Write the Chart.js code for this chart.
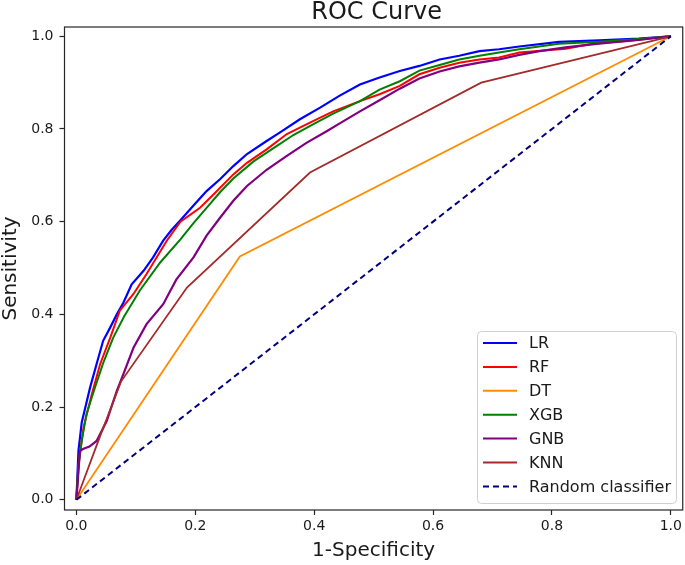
<!DOCTYPE html>
<html>
<head>
<meta charset="utf-8">
<script src="https://cdn.jsdelivr.net/npm/chart.js@4.4.1/dist/chart.umd.min.js"></script>
<style>
  html, body { margin: 0; padding: 0; background: #ffffff; }
  #c { display: block; }
</style>
</head>
<body>
<canvas id="c" width="685" height="565"></canvas>
<script>
// ---- data ----
const seriesLabels = ['LR', 'RF', 'DT', 'XGB', 'GNB', 'KNN', 'Random classifier'];
const seriesColors = ['#0000ff', '#ff0000', '#ff8c00', '#008000', '#800080', '#a52a2a', '#000080'];

const lrFpr = [0, 0.002, 0.0035, 0.009, 0.015, 0.023, 0.034, 0.045, 0.057, 0.068, 0.079, 0.093, 0.113, 0.129, 0.146, 0.160, 0.175, 0.197, 0.219, 0.242, 0.264, 0.287, 0.320, 0.342, 0.376, 0.410, 0.443, 0.477, 0.510, 0.544, 0.577, 0.611, 0.644, 0.678, 0.711, 0.745, 0.812, 0.879, 0.946, 1];
const lrTpr = [0, 0.060, 0.106, 0.167, 0.199, 0.242, 0.293, 0.343, 0.372, 0.400, 0.425, 0.465, 0.494, 0.523, 0.559, 0.582, 0.603, 0.635, 0.666, 0.692, 0.720, 0.746, 0.774, 0.792, 0.821, 0.846, 0.872, 0.896, 0.911, 0.925, 0.936, 0.950, 0.958, 0.968, 0.972, 0.978, 0.988, 0.991, 0.995, 1];

const rfFpr = [0, 0.004, 0.012, 0.026, 0.040, 0.057, 0.073, 0.096, 0.118, 0.152, 0.175, 0.208, 0.231, 0.264, 0.287, 0.320, 0.354, 0.398, 0.432, 0.477, 0.510, 0.544, 0.577, 0.611, 0.644, 0.678, 0.711, 0.745, 0.823, 0.868, 0.924, 1];
const rfTpr = [0, 0.080, 0.156, 0.228, 0.293, 0.350, 0.408, 0.444, 0.487, 0.559, 0.600, 0.630, 0.659, 0.702, 0.727, 0.756, 0.789, 0.817, 0.838, 0.860, 0.875, 0.893, 0.918, 0.932, 0.943, 0.950, 0.954, 0.965, 0.973, 0.984, 0.990, 1];

const dtFpr = [0, 0.275, 1];
const dtTpr = [0, 0.525, 1];

const xgbFpr = [0, 0.003, 0.009, 0.017, 0.032, 0.045, 0.062, 0.080, 0.107, 0.141, 0.175, 0.197, 0.219, 0.242, 0.264, 0.298, 0.331, 0.365, 0.398, 0.432, 0.477, 0.510, 0.544, 0.577, 0.611, 0.644, 0.678, 0.711, 0.745, 0.812, 0.879, 0.946, 1];
const xgbTpr = [0, 0.070, 0.127, 0.185, 0.245, 0.295, 0.350, 0.395, 0.452, 0.512, 0.562, 0.597, 0.630, 0.664, 0.693, 0.730, 0.758, 0.787, 0.810, 0.833, 0.860, 0.885, 0.903, 0.926, 0.938, 0.950, 0.958, 0.965, 0.972, 0.984, 0.988, 0.994, 1];

const gnbFpr = [0, 0.006, 0.012, 0.022, 0.034, 0.051, 0.068, 0.079, 0.096, 0.118, 0.146, 0.168, 0.197, 0.219, 0.242, 0.264, 0.287, 0.320, 0.354, 0.387, 0.421, 0.443, 0.477, 0.510, 0.544, 0.577, 0.611, 0.644, 0.678, 0.711, 0.745, 0.779, 0.823, 0.879, 0.946, 1];
const gnbTpr = [0, 0.106, 0.110, 0.115, 0.127, 0.170, 0.235, 0.271, 0.328, 0.379, 0.422, 0.475, 0.523, 0.570, 0.609, 0.645, 0.677, 0.712, 0.742, 0.770, 0.795, 0.812, 0.838, 0.862, 0.887, 0.909, 0.924, 0.935, 0.943, 0.950, 0.960, 0.968, 0.976, 0.984, 0.992, 1];

const knnFpr = [0, 0.038, 0.075, 0.186, 0.393, 0.681, 1];
const knnTpr = [0, 0.131, 0.255, 0.458, 0.706, 0.900, 1];

const randFpr = [0, 1];
const randTpr = [0, 1];

const tickValues = [0, 0.2, 0.4, 0.6, 0.8, 1.0];

// ---- build chart ----
const fprs = [lrFpr, rfFpr, dtFpr, xgbFpr, gnbFpr, knnFpr, randFpr];
const tprs = [lrTpr, rfTpr, dtTpr, xgbTpr, gnbTpr, knnTpr, randTpr];
const widths = [2.2, 2, 1.8, 2, 2.2, 1.8, 2];

const datasets = seriesLabels.map((lab, i) => ({
  label: lab,
  data: fprs[i].map((x, k) => ({ x: x, y: tprs[i][k] })),
  borderColor: seriesColors[i],
  backgroundColor: seriesColors[i],
  borderWidth: widths[i],
  borderDash: i === 6 ? [6, 4] : [],
  showLine: true,
  pointRadius: 0,
  pointHoverRadius: 0,
  tension: 0,
  fill: false,
  order: seriesLabels.length - i
}));

const FONT = "'DejaVu Sans', 'Liberation Sans', sans-serif";
const TXT = '#1a1a1a';
const AX = '#262626';

const framePlugin = {
  id: 'frame',
  afterDatasetsDraw(chart) {
    const { ctx, chartArea: a } = chart;
    ctx.save();
    ctx.strokeStyle = AX;
    ctx.lineWidth = 1.2;
    ctx.strokeRect(a.left, a.top, a.right - a.left, a.bottom - a.top);
    ctx.restore();
  }
};

const titlePlugin = {
  id: 'plotTitle',
  afterDraw(chart) {
    const { ctx, chartArea: a } = chart;
    ctx.save();
    ctx.fillStyle = TXT;
    ctx.font = "24px " + FONT;
    ctx.textAlign = 'center';
    ctx.textBaseline = 'middle';
    ctx.fillText('ROC Curve', (a.left + a.right) / 2 + 3, 12.5);
    ctx.restore();
  }
};

const legendPlugin = {
  id: 'boxLegend',
  afterDraw(chart) {
    const { ctx } = chart;
    const x0 = 477.5, y0 = 331.5, w = 199, h = 172, r = 4;
    ctx.save();
    ctx.beginPath();
    ctx.moveTo(x0 + r, y0);
    ctx.lineTo(x0 + w - r, y0);
    ctx.quadraticCurveTo(x0 + w, y0, x0 + w, y0 + r);
    ctx.lineTo(x0 + w, y0 + h - r);
    ctx.quadraticCurveTo(x0 + w, y0 + h, x0 + w - r, y0 + h);
    ctx.lineTo(x0 + r, y0 + h);
    ctx.quadraticCurveTo(x0, y0 + h, x0, y0 + h - r);
    ctx.lineTo(x0, y0 + r);
    ctx.quadraticCurveTo(x0, y0, x0 + r, y0);
    ctx.closePath();
    ctx.fillStyle = 'rgba(255,255,255,0.85)';
    ctx.fill();
    ctx.strokeStyle = '#d0d0d0';
    ctx.lineWidth = 1;
    ctx.stroke();
    ctx.font = "16px " + FONT;
    ctx.textAlign = 'left';
    ctx.textBaseline = 'middle';
    chart.data.datasets.forEach((ds, i) => {
      const yy = 343 + i * 23.9;
      ctx.beginPath();
      ctx.strokeStyle = ds.borderColor;
      ctx.lineWidth = 2;
      ctx.setLineDash(ds.borderDash || []);
      ctx.moveTo(483, yy);
      ctx.lineTo(517, yy);
      ctx.stroke();
      ctx.setLineDash([]);
      ctx.fillStyle = TXT;
      ctx.fillText(ds.label, 529, yy + 1);
    });
    ctx.restore();
  }
};

const axisCommon = {
  type: 'linear',
  afterBuildTicks: (s) => { s.ticks = tickValues.map(v => ({ value: v })); },
  grid: { drawOnChartArea: false, drawTicks: true, tickLength: 5, color: AX, tickWidth: 1.2 },
  border: { display: false }
};

new Chart(document.getElementById('c'), {
  type: 'scatter',
  data: { datasets: datasets },
  options: {
    responsive: false,
    animation: false,
    devicePixelRatio: 1,
    layout: { padding: { top: 27, right: 1, left: 0, bottom: 0 } },
    plugins: {
      legend: { display: false },
      title: { display: false },
      tooltip: { enabled: false }
    },
    scales: {
      x: Object.assign({}, axisCommon, {
        min: -0.02, max: 1.02,
        ticks: { callback: v => Number(v).toFixed(1), font: { family: FONT, size: 14 }, color: TXT, padding: 3, maxRotation: 0, autoSkip: false },
        title: { display: true, text: '1-Specificity', font: { family: FONT, size: 20, lineHeight: 1.2 }, color: TXT, padding: { top: 0, bottom: 2 } },
        afterFit: (s) => { s.height = 55; }
      }),
      y: Object.assign({}, axisCommon, {
        min: -0.022, max: 1.02,
        ticks: { callback: v => Number(v).toFixed(1), font: { family: FONT, size: 14 }, color: TXT, padding: 6, autoSkip: false },
        title: { display: true, text: 'Sensitivity', font: { family: FONT, size: 20, lineHeight: 1.1 }, color: TXT, padding: { top: 0, bottom: 0 } },
        afterFit: (s) => { s.width = 64.5; }
      })
    }
  },
  plugins: [framePlugin, titlePlugin, legendPlugin]
});
</script>
</body>
</html>
